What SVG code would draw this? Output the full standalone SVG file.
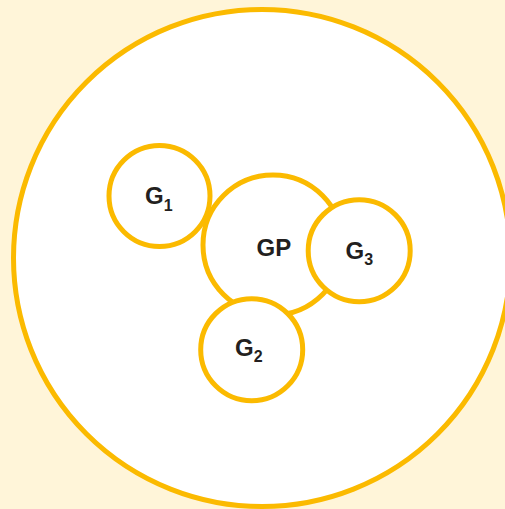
<svg xmlns="http://www.w3.org/2000/svg" width="505" height="509" viewBox="0 0 505 509">
<style>
.c{fill:#fff;stroke:#FBBA00;stroke-width:5}
.t{font-family:"Liberation Sans",Arial,sans-serif;font-weight:bold;font-size:24px;fill:#231F20}
.s{font-size:16px}
</style>
<rect width="505" height="509" fill="#FFF5D9"/>
<g id="outer"><circle class="c" cx="262" cy="258" r="248.5"/></g>
<g id="GP"><circle class="c" cx="273" cy="245" r="70"/><text class="t" x="256.5" y="256">GP</text></g>
<g id="G1"><circle class="c" cx="159.5" cy="196" r="50.5"/><text class="t" x="145" y="204">G<tspan class="s" dy="7">1</tspan></text></g>
<g id="G3"><circle class="c" cx="359.2" cy="250.7" r="51"/><text class="t" x="345.5" y="258.5">G<tspan class="s" dy="6">3</tspan></text></g>
<g id="G2"><circle class="c" cx="251.7" cy="349.7" r="51"/><text class="t" x="235" y="356">G<tspan class="s" dy="6">2</tspan></text></g>
<g id="connectors"/>
</svg>
